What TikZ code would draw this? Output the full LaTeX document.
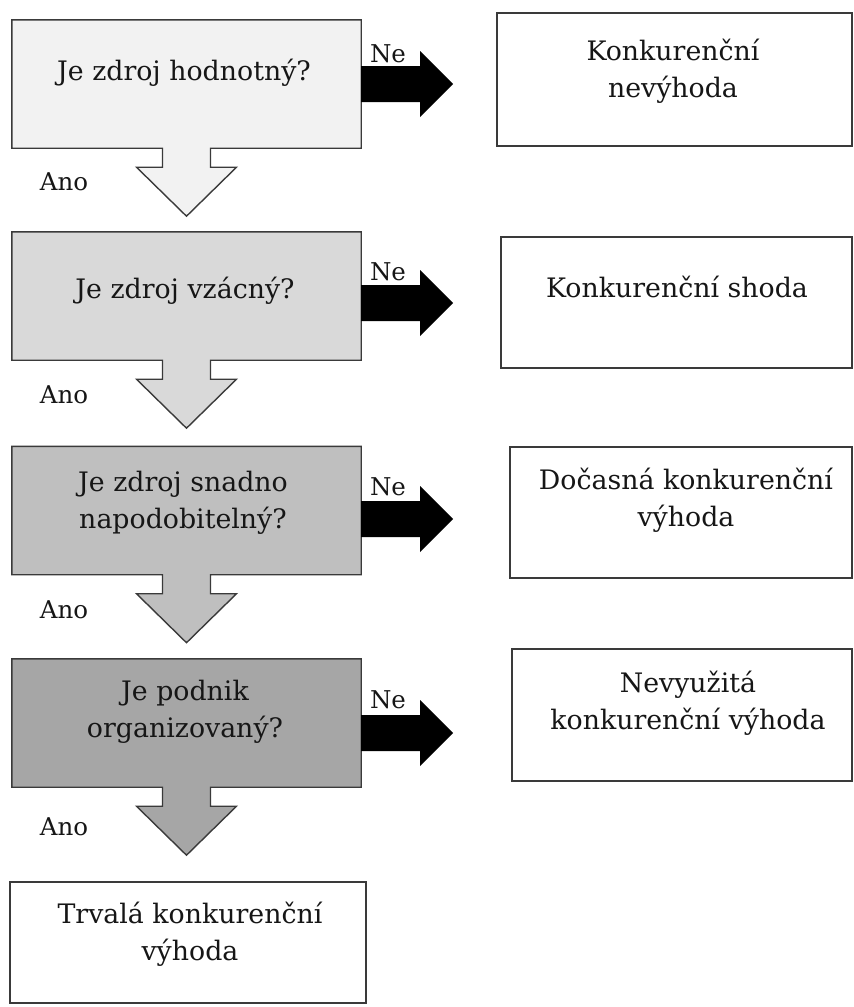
\documentclass[tikz,border=0pt]{standalone}
\usepackage{fontspec}
\setmainfont{DejaVu Serif}
\usetikzlibrary{calc}

\definecolor{edge}{HTML}{3A3A3A}
\definecolor{ink}{HTML}{161616}
\definecolor{fillA}{HTML}{F2F2F2}
\definecolor{fillB}{HTML}{D9D9D9}
\definecolor{fillC}{HTML}{BFBFBF}
\definecolor{fillD}{HTML}{A6A6A6}

% question box with its "Ano" block arrow hanging below
\newcommand\questionshape[2]{%
  \draw[outline, fill=#2] (#1.south west) |- (#1.north east)
    |- ($(#1.south)+(24,0)$) -- ++(0,19) -- ++(26,0) -- ++(-50,49)
    -- ++(-50,-49) -- ++(26,0) -- ++(0,-19) -- cycle;}
% black "Ne" block arrow leaving a question box to the right
\newcommand\noarrow[2]{%
  \fill[black] ($(#1.east)+(0,#2)$) ++(0,-18) -- ++(59,0) -- ++(0,-15)
    -- ++(33,33) -- ++(-33,33) -- ++(0,-15) -- ++(-59,0) -- cycle;}

\begin{document}
\begin{tikzpicture}[x=1pt,y=-1pt,
  outline/.style={draw=edge, line width=1.4pt, line join=miter},
  frame/.style={rectangle, inner sep=0pt, minimum width=349pt, minimum height=128pt},
  resbox/.style={rectangle, draw=edge, line width=1.4pt, inner sep=0pt},
  txt/.style={text=ink, font=\fontsize{26.8}{36.5}\selectfont, align=center, anchor=base, inner sep=0pt},
  tag/.style={text=ink, font=\fontsize{24.5}{30}\selectfont, anchor=base, inner sep=0pt},
]
\useasboundingbox (0,0) rectangle (854,1007);
\fill[white] (0,0) rectangle (854,1007);

% question frames
\node[frame] (q1) at (186.5,84) {};
\node[frame] (q2) at (186.5,296) {};
\node[frame] (q3) at (186.5,510.5) {};
\node[frame] (q4) at (186.5,723) {};

\questionshape{q1}{fillA}
\questionshape{q2}{fillB}
\questionshape{q3}{fillC}
\questionshape{q4}{fillD}

% outcome boxes
\node[resbox, minimum width=355pt, minimum height=133pt] (r1) at (674.5,79.5) {};
\node[resbox, minimum width=351pt, minimum height=131pt] (r2) at (676.5,302.5) {};
\node[resbox, minimum width=342pt, minimum height=131pt] (r3) at (681,512.5) {};
\node[resbox, minimum width=340pt, minimum height=132pt] (r4) at (682,715) {};
\node[resbox, minimum width=356pt, minimum height=121pt] (fin) at (188,942.5) {};

% "Ne" arrows
\noarrow{q1}{0}
\noarrow{q2}{7}
\noarrow{q3}{8.5}
\noarrow{q4}{10}

% question texts (multi-line nodes sit on the baseline of their last line)
\node[txt] (q1t) at (184,80) {Je zdroj hodnotný?};
\node[txt] (q2t) at (185,298) {Je zdroj vzácný?};
\node[txt] (q3t) at (183,528) {Je zdroj snadno\\napodobitelný?};
\node[txt] (q4t) at (185,737) {Je podnik\\organizovaný?};

% outcome texts
\node[txt] (r1t) at (673,97) {Konkurenční\\nevýhoda};
\node[txt] (r2t) at (677,297) {Konkurenční shoda};
\node[txt] (r3t) at (686,526) {Dočasná konkurenční\\výhoda};
\node[txt] (r4t) at (688,729) {Nevyužitá\\konkurenční výhoda};
\node[txt] (fint) at (190,960) {Trvalá konkurenční\\výhoda};

% branch labels
\foreach \n/\y in {1/62,2/280,3/495,4/708}
  \node[tag, anchor=base] (ne\n) at (388,\y) {Ne};
\foreach \n/\y in {1/190,2/403,3/618,4/835}
  \node[tag, anchor=base] (ano\n) at (64,\y) {Ano};
\end{tikzpicture}
\end{document}
